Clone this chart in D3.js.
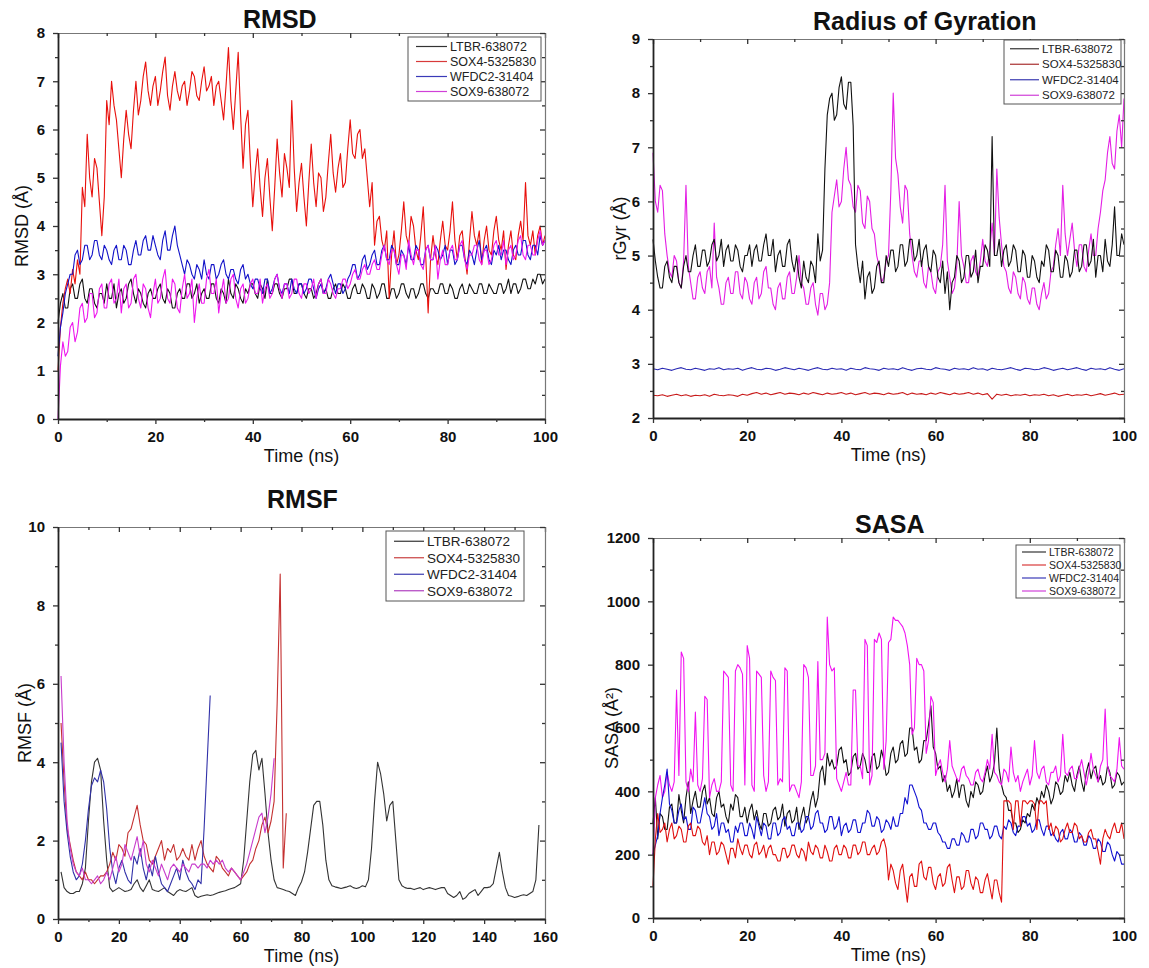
<!DOCTYPE html>
<html>
<head>
<meta charset="utf-8">
<script src="https://cdn.jsdelivr.net/npm/d3@7"></script>
<style>
body { margin: 0; background: #fff; }
svg text { font-family: "Liberation Sans", Arial, sans-serif; fill: #111; }
</style>
</head>
<body>
<svg id="chart" width="1149" height="968"></svg>
<script>
// ---- data ----
var legendNames = ['LTBR-638072', 'SOX4-5325830', 'WFDC2-31404', 'SOX9-638072'];
var timeNs = d3.range(0, 101);          // one sample per ns
var timeHalf = d3.range(0, 100.25, 0.5); // one sample per 0.5 ns

// RMSD, 0.5 ns samples (each row = 10 ns)
var rmsdLTBR = [
	2.0,2.4,2.6,2.3,2.3,2.7,2.8,2.5,2.5,2.8,2.9,2.5,2.4,2.7,2.7,2.4,2.3,2.6,2.6,2.4,
	2.8,2.5,2.5,2.8,2.3,2.6,2.7,2.4,2.5,2.8,2.9,2.6,2.4,2.7,2.6,2.4,2.3,2.6,2.7,2.5,
	2.5,2.7,2.8,2.5,2.4,2.7,2.6,2.3,2.3,2.6,2.7,2.5,2.5,2.8,2.8,2.5,2.6,2.8,2.4,2.6,
	2.7,2.5,2.5,2.8,2.8,2.5,2.4,2.7,2.6,2.4,2.9,2.6,2.5,2.8,2.7,2.5,2.4,2.7,2.6,2.8,
	2.8,2.6,2.5,2.8,2.7,2.5,2.9,2.6,2.6,2.8,2.8,2.6,2.5,2.7,2.7,2.9,2.9,2.6,2.6,2.8,
	2.8,2.6,2.5,2.7,2.7,2.5,2.6,2.8,2.9,2.6,2.7,2.5,2.5,2.7,2.8,2.6,2.6,2.8,2.7,2.5,
	2.5,2.7,2.8,2.6,2.6,2.8,2.7,2.5,2.5,2.8,2.7,2.5,2.6,2.8,2.8,2.5,2.5,2.7,2.7,2.5,
	2.6,2.8,2.8,2.6,2.5,2.7,2.7,2.5,2.6,2.8,2.8,2.6,2.5,2.7,2.7,2.6,2.6,2.8,2.8,2.6,
	2.6,2.8,2.7,2.5,2.5,2.7,2.8,2.6,2.6,2.8,2.7,2.6,2.6,2.8,2.8,2.6,2.6,2.8,2.7,2.6,
	2.6,2.8,2.8,2.6,2.7,2.9,2.6,2.8,2.8,2.6,2.7,2.9,2.9,2.7,2.7,2.9,2.8,3.0,3.0,2.8,
	2.9];
var rmsdSOX4 = [
	1.0,1.9,2.4,2.7,2.9,2.6,3.1,2.8,3.3,3.0,4.8,4.4,5.9,5.0,4.6,5.4,5.2,4.5,3.8,4.6,
	6.6,6.1,7.0,6.5,6.2,5.6,5.0,5.8,6.4,5.9,5.6,6.4,7.0,6.3,6.6,7.1,7.4,6.8,6.5,6.9,
	7.1,6.5,6.8,7.2,7.5,6.7,6.4,6.9,7.2,6.8,6.6,6.9,7.0,6.5,6.8,7.2,7.1,6.7,6.6,7.0,
	7.3,6.8,6.9,7.1,6.5,6.9,7.0,6.6,6.2,6.9,7.7,6.6,6.0,6.8,7.6,6.3,5.2,6.1,6.4,5.3,
	4.4,5.1,5.6,4.8,4.2,5.0,5.4,4.6,3.9,4.8,5.8,5.1,4.6,5.5,5.2,4.8,6.6,5.2,4.3,4.9,
	5.3,4.6,4.0,4.9,5.7,4.9,4.4,5.1,5.0,4.3,4.6,5.3,5.9,5.1,4.7,5.2,5.5,4.8,4.9,5.6,
	6.2,5.5,5.4,5.9,6.0,5.4,5.6,5.0,4.4,4.9,3.6,4.1,4.2,3.7,3.5,3.9,2.5,3.4,3.9,3.2,
	3.4,3.9,4.5,3.8,3.6,4.2,4.0,3.5,3.3,3.8,4.4,3.4,2.2,3.3,3.8,3.4,3.2,3.7,4.1,3.6,
	3.5,3.9,4.5,3.7,3.3,3.8,3.9,3.4,3.0,3.7,4.3,3.8,3.6,3.9,3.2,3.7,4.0,3.5,3.4,3.9,
	4.2,3.7,3.5,3.9,3.1,3.6,3.9,3.4,3.3,3.8,4.1,3.7,4.9,3.8,3.6,3.9,3.4,3.8,4.0,3.6,
	3.8];
var rmsdWFDC2 = [
	1.3,1.9,2.2,2.6,2.8,3.0,3.0,3.4,3.5,3.2,3.3,3.6,3.6,3.3,3.4,3.7,3.7,3.4,3.3,3.6,
	3.5,3.3,3.2,3.5,3.6,3.3,3.3,3.6,3.5,3.2,3.2,3.5,3.7,3.4,3.4,3.7,3.8,3.5,3.5,3.8,
	3.6,3.4,3.3,3.7,3.9,3.5,3.5,3.8,4.0,3.6,3.4,3.2,3.0,3.3,3.2,3.0,2.9,3.2,3.1,2.9,
	3.3,3.0,2.9,3.2,3.2,2.9,3.0,3.2,3.3,3.0,2.9,3.1,3.1,2.9,2.8,3.1,3.2,2.9,3.0,2.8,
	2.7,2.9,2.9,2.7,2.6,2.9,2.9,2.6,2.7,2.9,3.0,2.7,2.6,2.8,2.8,2.6,2.9,2.7,2.6,2.8,
	2.8,2.6,2.7,2.9,2.9,2.7,2.5,2.7,2.8,2.6,2.7,2.9,3.0,2.8,2.6,2.8,2.8,2.6,2.7,2.9,
	3.0,3.2,3.2,2.9,3.0,3.3,3.4,3.1,3.2,3.4,3.5,3.2,3.2,3.5,3.6,3.3,3.3,3.6,3.5,3.2,
	3.2,3.5,3.4,3.2,3.6,3.3,3.3,3.6,3.5,3.2,3.2,3.5,3.6,3.3,3.3,3.6,3.5,3.3,3.4,3.6,
	3.2,3.5,3.5,3.2,3.3,3.6,3.6,3.3,3.2,3.5,3.4,3.2,3.5,3.7,3.3,3.5,3.6,3.3,3.2,3.5,
	3.4,3.6,3.3,3.5,3.5,3.3,3.2,3.5,3.6,3.4,3.4,3.7,3.7,3.4,3.3,3.6,3.6,3.4,3.8,3.6,
	3.7];
var rmsdSOX9 = [
	0.0,1.1,1.6,1.3,1.4,1.9,2.0,1.6,1.8,2.3,2.4,2.0,2.1,2.6,2.6,2.1,2.2,2.7,2.8,2.3,
	2.3,2.8,2.9,2.4,2.5,2.9,2.2,2.7,2.8,2.3,2.4,2.9,3.0,2.5,2.3,2.8,2.7,2.3,2.1,2.6,
	2.9,2.4,2.5,2.9,3.1,2.5,2.4,2.9,2.8,2.3,2.2,2.7,3.0,2.5,2.6,2.9,2.0,2.5,2.8,2.4,
	2.4,2.9,3.1,2.6,2.6,2.9,2.2,2.6,2.9,2.4,2.5,2.9,3.0,2.5,2.3,2.7,2.8,2.4,2.5,2.8,
	2.9,2.6,2.6,2.9,2.4,2.7,2.8,2.5,2.6,2.9,3.0,2.7,2.5,2.8,2.8,2.5,2.6,2.9,2.9,2.6,
	2.5,2.8,2.8,2.6,2.7,2.9,2.5,2.8,2.9,2.6,2.6,2.9,2.8,2.6,2.5,2.7,2.7,2.9,2.9,2.7,
	2.8,3.0,3.1,2.9,2.9,3.1,3.2,3.0,3.0,3.2,3.3,3.1,3.1,3.4,3.6,3.3,3.2,3.5,3.5,3.2,
	3.0,3.4,3.4,3.1,3.7,3.4,3.2,3.5,3.5,3.2,3.1,3.5,3.6,3.3,3.3,3.6,2.9,3.3,3.5,3.2,
	3.2,3.5,3.6,3.3,3.3,3.6,3.7,3.3,3.1,3.4,3.4,3.6,3.6,3.3,3.2,3.5,3.5,3.2,3.3,3.6,
	3.7,3.4,3.4,3.7,3.2,3.5,3.6,3.3,3.4,3.7,3.8,3.4,3.3,3.6,3.6,3.4,3.4,3.7,3.9,3.6,
	3.7];

// radius of gyration: LTBR and SOX9 at 0.5 ns, SOX4 and WFDC2 at 1 ns
var rgyrLTBR = [
	5.3,4.9,4.6,4.4,4.4,4.8,4.9,4.6,4.5,4.8,4.8,4.5,4.4,4.8,5.0,4.7,4.7,5.0,5.2,4.8,
	4.8,5.1,5.1,4.8,4.9,5.2,5.3,4.9,5.0,5.3,4.8,5.1,5.2,4.9,4.9,5.2,5.1,4.8,4.7,5.0,
	5.0,5.2,4.8,5.1,5.2,4.9,4.9,5.2,5.4,5.0,5.0,5.3,4.7,5.0,5.1,4.8,4.8,5.2,5.3,4.9,
	4.7,5.0,4.6,4.4,4.9,4.6,4.5,4.9,4.8,4.5,5.4,4.9,5.1,6.6,7.6,7.9,8.0,7.5,7.6,8.1,
	8.3,7.8,7.7,8.2,8.2,7.4,5.2,4.8,4.5,4.9,4.2,4.6,4.7,4.3,4.4,4.8,4.9,4.5,4.5,5.0,
	4.8,5.1,5.1,4.7,4.8,5.2,5.2,4.8,4.9,5.3,5.3,4.9,5.0,5.3,4.8,5.1,5.2,4.8,4.7,5.1,
	5.0,4.6,4.5,4.9,4.3,4.7,4.0,4.5,4.6,5.0,4.9,4.5,4.6,5.0,5.0,4.6,4.7,5.1,4.5,4.8,
	4.8,5.2,5.1,4.8,7.2,5.0,5.0,5.3,4.8,5.1,5.2,4.8,4.9,5.2,5.1,4.7,4.7,5.1,5.0,4.6,
	4.6,5.0,4.9,4.6,4.5,4.9,4.8,5.2,5.1,4.7,4.7,5.1,5.0,4.6,4.6,5.0,4.9,4.6,4.7,5.1,
	5.1,4.7,4.8,5.2,5.2,4.8,4.9,5.3,4.6,5.0,5.0,4.7,5.3,4.9,4.8,5.2,5.9,5.0,5.0,5.4,
	5.2];
var rgyrSOX4 = [
	2.42,2.41,2.43,2.40,2.42,2.44,2.41,2.43,2.40,2.42,
	2.41,2.43,2.40,2.44,2.42,2.41,2.43,2.42,2.40,2.44,
	2.42,2.45,2.47,2.44,2.46,2.43,2.45,2.47,2.44,2.46,
	2.45,2.43,2.46,2.44,2.47,2.45,2.43,2.46,2.44,2.45,
	2.47,2.44,2.46,2.43,2.45,2.47,2.44,2.46,2.45,2.43,
	2.46,2.44,2.45,2.47,2.43,2.46,2.44,2.45,2.43,2.46,
	2.44,2.47,2.45,2.43,2.46,2.44,2.45,2.47,2.44,2.46,
	2.43,2.45,2.35,2.44,2.42,2.44,2.41,2.43,2.42,2.44,
	2.41,2.43,2.42,2.44,2.41,2.43,2.40,2.42,2.44,2.41,
	2.43,2.42,2.44,2.41,2.43,2.45,2.42,2.44,2.46,2.43,
	2.44];
var rgyrWFDC2 = [
	2.91,2.89,2.92,2.90,2.88,2.91,2.93,2.90,2.89,2.92,
	2.90,2.88,2.91,2.90,2.93,2.89,2.91,2.90,2.92,2.88,
	2.91,2.93,2.90,2.89,2.92,2.91,2.88,2.90,2.93,2.91,
	2.89,2.92,2.90,2.88,2.91,2.93,2.90,2.89,2.92,2.90,
	2.91,2.88,2.92,2.90,2.89,2.93,2.91,2.90,2.88,2.92,
	2.90,2.91,2.89,2.93,2.90,2.88,2.91,2.92,2.90,2.89,
	2.93,2.91,2.90,2.88,2.92,2.90,2.91,2.89,2.93,2.90,
	2.91,2.88,2.92,2.90,2.89,2.91,2.93,2.90,2.88,2.92,
	2.91,2.89,2.90,2.93,2.91,2.88,2.90,2.92,2.89,2.91,
	2.93,2.90,2.88,2.92,2.90,2.91,2.89,2.93,2.90,2.88,
	2.91];
var rgyrSOX9 = [
	6.9,6.0,5.8,6.3,6.2,5.4,5.0,4.7,4.6,5.0,4.9,4.5,4.4,4.9,6.3,4.8,4.5,4.2,4.2,4.6,
	4.7,4.4,4.3,4.7,4.8,4.4,5.6,4.6,4.4,4.1,4.1,4.5,4.6,4.3,4.3,4.7,4.7,4.3,4.2,4.6,
	4.5,4.2,4.1,4.5,4.6,4.2,4.3,4.7,4.8,4.4,4.4,4.1,4.0,4.4,4.5,4.2,4.2,4.6,4.7,4.3,
	4.3,4.6,5.0,4.5,4.4,4.1,4.1,4.4,4.5,4.1,3.9,4.3,4.3,4.0,4.1,4.5,5.8,6.1,6.4,5.9,
	6.0,6.6,7.0,6.4,6.3,5.9,5.8,6.3,6.2,5.6,5.5,6.1,6.0,5.5,5.4,5.0,4.8,4.5,4.6,4.9,
	5.0,6.2,8.0,6.8,6.5,5.9,5.6,6.3,6.2,5.4,5.0,4.7,4.6,4.9,4.9,4.5,4.4,4.8,4.7,4.4,
	4.3,4.7,4.8,5.2,6.3,4.9,4.6,4.3,4.4,4.8,6.0,5.0,4.8,4.5,4.5,4.9,5.0,4.7,4.6,4.9,
	5.3,4.9,4.8,5.1,5.6,5.0,6.6,5.7,5.2,4.8,4.7,4.4,4.3,4.7,4.6,4.3,4.2,4.6,4.5,4.2,
	4.1,4.4,4.4,4.1,4.0,4.3,4.5,4.2,4.3,4.7,4.8,5.2,5.5,5.0,6.3,5.4,5.0,5.3,5.6,5.1,
	4.8,5.2,5.2,4.8,4.7,5.1,5.4,5.0,5.0,5.5,5.8,6.2,6.4,6.9,7.2,6.7,6.6,7.3,7.6,7.0,
	7.9];

// RMSF: one value per residue, starting at residue 1
var rmsfLTBR = [
	1.2,0.8,0.7,0.65,0.65,0.7,0.7,0.9,1.3,2.5,
	3.5,4.0,4.1,3.8,2.5,1.5,0.8,0.7,0.75,0.8,
	0.75,0.7,0.72,0.75,0.9,1.0,0.8,0.7,0.85,1.0,
	0.75,0.72,0.7,0.75,0.8,0.7,0.65,0.6,0.7,0.75,
	0.72,0.7,0.75,0.8,0.6,0.55,0.58,0.6,0.62,0.6,
	0.62,0.65,0.68,0.7,0.72,0.75,0.78,0.8,0.85,0.9,
	1.5,2.5,3.5,4.2,4.3,3.8,4.1,3.2,2.2,1.5,
	1.0,0.8,0.78,0.75,0.72,0.7,0.65,0.6,0.8,0.95,
	1.2,1.7,2.3,2.9,3.0,3.0,2.4,1.5,1.0,0.85,
	0.82,0.8,0.78,0.8,0.82,0.85,0.8,0.78,0.8,0.85,
	0.82,1.0,1.8,3.0,4.0,3.7,3.2,2.5,2.9,3.0,
	2.0,1.0,0.85,0.8,0.78,0.78,0.75,0.78,0.8,0.75,
	0.78,0.8,0.78,0.75,0.78,0.8,0.8,0.65,0.6,0.55,
	0.6,0.7,0.5,0.55,0.65,0.7,0.75,0.6,0.7,0.8,
	0.8,0.82,0.9,1.3,1.7,1.2,0.8,0.6,0.58,0.55,
	0.57,0.6,0.62,0.6,0.65,0.7,1.0,2.4];
var rmsfSOX4 = [
	5.0,3.5,2.3,1.9,1.5,1.2,1.1,1.0,1.2,1.0,
	1.0,0.9,1.0,1.1,1.1,1.2,1.4,1.7,1.5,1.9,
	1.8,1.6,2.2,2.3,2.6,2.9,2.4,2.0,1.9,1.5,
	1.4,1.6,1.8,2.0,1.5,1.8,1.7,1.9,1.5,1.6,
	1.8,1.6,1.5,1.9,1.5,1.8,2.0,1.6,1.4,1.3,
	1.2,1.6,1.5,1.3,1.2,1.1,1.3,1.2,1.1,1.0,
	1.1,1.2,1.4,1.5,1.8,2.0,2.4,2.6,2.2,2.5,
	3.0,5.5,8.8,1.3,2.7];
var rmsfWFDC2 = [
	4.5,3.0,2.2,1.6,1.2,1.0,1.1,1.4,2.0,2.8,
	3.4,3.6,3.5,3.8,3.5,2.8,1.8,1.2,0.9,1.3,
	1.5,1.2,1.0,0.9,1.6,1.4,1.8,1.3,1.0,1.4,
	1.1,1.6,1.2,0.9,0.8,0.7,0.9,1.1,1.3,1.0,
	1.5,1.2,1.0,0.9,0.75,1.0,0.9,2.3,4.0,5.7];
var rmsfSOX9 = [
	6.2,4.0,2.5,1.8,1.4,1.2,1.1,1.3,1.0,1.0,
	0.9,1.0,1.1,0.9,1.0,1.2,1.0,1.3,1.6,1.2,
	1.4,1.9,1.7,1.5,1.8,2.1,1.6,2.0,1.4,1.2,
	1.5,1.3,1.1,1.4,1.2,1.0,1.3,1.4,1.3,1.2,
	1.4,1.3,1.2,1.4,1.4,1.3,1.4,1.4,1.3,1.5,
	1.4,1.5,1.4,1.5,1.3,1.2,1.3,1.2,1.1,1.0,
	1.2,1.4,1.7,2.0,2.3,2.6,2.7,2.2,2.6,3.2,
	4.1];

// SASA, 0.5 ns samples (each row = 10 ns)
var sasaLTBR = [
	300,380,250,330,320,280,280,350,360,300,300,390,340,300,380,430,330,370,400,350,
	350,400,420,360,380,330,320,380,400,350,360,320,300,360,340,390,380,320,320,350,
	300,340,360,310,340,300,280,330,330,290,300,340,350,310,320,360,290,330,340,300,
	310,350,280,320,350,300,320,370,400,350,380,460,480,420,520,480,500,470,480,530,
	540,490,500,450,460,510,520,470,480,520,500,460,460,510,520,470,480,530,500,450,
	460,520,540,490,500,550,560,510,520,600,600,530,540,490,500,560,560,610,670,540,
	520,470,480,430,450,400,420,380,400,440,380,420,420,370,350,400,380,430,420,390,
	400,450,480,430,450,490,600,470,420,390,380,340,340,300,300,270,280,310,300,330,
	320,360,340,380,360,400,380,420,400,360,380,430,420,390,400,450,430,460,420,400,
	450,480,430,400,460,490,440,470,480,430,450,420,430,480,460,410,420,460,450,420,
	430];
var sasaSOX4 = [
	100,250,330,270,280,300,240,280,300,250,260,290,280,240,240,290,300,260,260,290,
	280,240,230,260,200,240,240,200,210,240,230,200,170,220,220,190,250,220,200,230,
	230,200,190,230,240,200,210,230,190,220,230,200,200,180,180,220,220,190,200,230,
	230,200,190,220,210,180,240,210,200,230,220,190,190,230,210,180,180,220,230,200,
	200,230,220,190,190,230,230,200,210,240,240,200,200,220,230,200,210,240,250,220,
	120,170,150,110,90,150,170,110,50,130,140,100,100,170,180,130,120,160,160,110,
	90,130,140,100,110,160,170,120,80,130,130,90,100,150,150,110,90,130,120,80,
	80,120,140,100,60,120,120,80,50,370,370,370,360,280,370,370,290,370,370,360,
	370,370,360,280,370,370,360,370,280,300,260,290,280,240,250,280,300,270,270,300,
	290,250,260,240,240,270,280,250,250,210,170,250,280,260,250,280,300,270,270,300,
	250];
var sasaWFDC2 = [
	200,230,260,330,380,420,470,360,340,300,300,340,360,310,320,280,280,350,340,300,
	300,340,380,330,320,280,290,330,260,300,300,270,280,240,240,290,270,300,300,260,
	260,300,280,250,320,290,260,300,290,250,250,300,300,260,270,310,320,280,290,260,
	260,300,300,270,280,320,320,280,290,330,340,300,300,270,280,320,320,280,290,320,
	260,290,300,270,280,310,310,270,270,300,300,340,330,290,290,320,310,270,280,310,
	300,280,320,290,290,330,330,380,360,420,420,400,380,350,340,300,300,280,280,300,
	300,270,260,240,240,220,220,250,250,230,230,270,260,240,240,280,280,250,260,300,
	300,280,280,250,260,290,290,260,250,290,280,310,300,270,260,290,290,320,320,290,
	300,270,280,310,310,280,260,290,290,260,270,250,240,270,280,250,250,280,270,240,
	240,270,260,230,230,260,250,220,220,250,240,210,210,240,230,200,180,210,200,170,
	170];
var sasaSOX9 = [
	200,380,420,450,380,400,460,420,400,430,720,450,840,820,430,400,470,430,650,420,
	400,440,700,690,380,420,440,400,400,430,780,770,760,420,400,780,800,790,770,420,
	860,820,420,400,780,770,760,450,400,430,780,760,750,420,440,430,790,780,400,420,
	420,400,380,430,800,790,760,450,450,480,810,500,500,520,950,800,780,790,440,420,
	400,430,460,420,420,720,720,480,480,440,880,860,420,450,880,870,900,880,470,560,
	870,880,950,940,940,930,920,900,860,800,580,600,820,800,800,780,520,560,700,680,
	450,480,500,460,430,470,560,480,460,440,430,470,480,450,440,420,420,460,470,440,
	430,460,500,470,580,460,450,430,420,470,460,430,540,460,430,450,400,430,450,470,
	420,450,560,460,440,470,480,430,420,460,460,480,430,450,580,460,450,470,480,440,
	440,470,500,460,420,460,520,470,450,430,480,500,660,480,450,440,430,470,570,480,
	470];

var svg = d3.select('#chart');

function drawPanel(p) {
	var x = d3.scaleLinear().domain(p.xDomain).range([p.left, p.right]);
	var y = d3.scaleLinear().domain(p.yDomain).range([p.bottom, p.top]);
	var g = svg.append('g');

	// data lines
	p.series.forEach(function(s) {
		var line = d3.line()
			.x(function(d, i) { return x(s.xs[i]); })
			.y(function(d) { return y(d); });
		g.append('path')
			.datum(s.values)
			.attr('d', line)
			.style('fill', 'none')
			.style('stroke', s.color)
			.style('stroke-width', 1.1)
			.style('stroke-linejoin', 'round');
	});

	function addAxis(gen, tx, ty, vals, size, fmt, pad) {
		var a = g.append('g')
			.attr('transform', 'translate(' + tx + ',' + ty + ')')
			.call(gen.tickValues(vals).tickSize(size).tickSizeOuter(0)
				.tickPadding(pad || 3).tickFormat(fmt || function() { return ''; }));
		a.selectAll('.tick line').style('stroke', '#333').style('stroke-width', 1.3);
		return a;
	}

	// frame: top and right, ticks pointing in
	var top = addAxis(d3.axisBottom(x), 0, p.top, p.xMajor, 5);
	addAxis(d3.axisBottom(x), 0, p.top, p.xMinor, 3).select('.domain').remove();
	var right = addAxis(d3.axisLeft(y), p.right, 0, p.yMajor, 5);
	addAxis(d3.axisLeft(y), p.right, 0, p.yMinor, 3).select('.domain').remove();
	top.select('.domain').style('stroke', '#777').style('stroke-width', 1.2);
	right.select('.domain').style('stroke', '#777').style('stroke-width', 1.2);

	// bottom and left, ticks pointing out
	var bottom = addAxis(d3.axisBottom(x), 0, p.bottom, p.xMajor, 5, d3.format('d'), 7);
	addAxis(d3.axisBottom(x), 0, p.bottom, p.xMinor, 3).select('.domain').remove();
	var left = addAxis(d3.axisLeft(y), p.left, 0, p.yMajor, 5, d3.format('d'), 8);
	addAxis(d3.axisLeft(y), p.left, 0, p.yMinor, 3).select('.domain').remove();
	[bottom, left].forEach(function(a) {
		a.select('.domain').style('stroke', '#222').style('stroke-width', 1.8);
		a.selectAll('.tick text')
			.style('font-size', '15px')
			.style('font-weight', 'bold')
			.style('fill', '#111');
	});

	// titles
	g.append('text')
		.attr('x', p.titleX).attr('y', p.titleY)
		.style('font-size', '25px').style('font-weight', 'bold')
		.text(p.title);
	g.append('text')
		.attr('x', (p.left + p.right) / 2).attr('y', p.bottom + 43)
		.attr('text-anchor', 'middle')
		.style('font-size', '18px')
		.text('Time (ns)');
	g.append('text')
		.attr('transform', 'translate(' + p.yLabelX + ',' + ((p.top + p.bottom) / 2) + ') rotate(-90)')
		.attr('text-anchor', 'middle')
		.attr('dy', '0.35em')
		.style('font-size', '18px')
		.text(p.yLabel);

	// legend
	var lg = p.legend;
	var box = g.append('g').attr('transform', 'translate(' + lg.x + ',' + lg.y + ')');
	box.append('rect')
		.attr('width', lg.w).attr('height', lg.h)
		.style('fill', '#fff').style('stroke', '#555').style('stroke-width', 1);
	legendNames.forEach(function(name, i) {
		var ry = lg.pad + lg.row * (i + 0.5);
		box.append('line')
			.attr('x1', lg.lx).attr('x2', lg.lx + lg.len)
			.attr('y1', ry).attr('y2', ry)
			.style('stroke', p.legendColors[i]).style('stroke-width', 1.2);
		box.append('text')
			.attr('x', lg.lx + lg.len + 3).attr('y', ry)
			.attr('dy', '0.36em')
			.style('font-size', lg.fs + 'px')
			.style('fill', '#222')
			.text(name);
	});
}

var t160Major = d3.range(0, 161, 20), t160Minor = d3.range(10, 160, 20);
var t100Major = d3.range(0, 101, 20), t100Minor = d3.range(10, 100, 20);

drawPanel({
	title: 'RMSD', titleX: 243, titleY: 28,
	left: 58, right: 545, top: 33, bottom: 419,
	xDomain: [0, 100], yDomain: [0, 8],
	xMajor: t100Major, xMinor: t100Minor,
	yMajor: d3.range(0, 9, 1), yMinor: d3.range(0.5, 8, 1),
	yLabel: 'RMSD (Å)', yLabelX: 22,
	series: [
		{ xs: timeHalf, values: rmsdLTBR, color: '#111' },
		{ xs: timeHalf, values: rmsdSOX4, color: '#e8100c' },
		{ xs: timeHalf, values: rmsdWFDC2, color: '#1212c8' },
		{ xs: timeHalf, values: rmsdSOX9, color: '#ee16ee' }
	],
	legendColors: ['#333', '#d83a3a', '#3a3ab8', '#d040d8'],
	legend: { x: 408, y: 37, w: 133, h: 64, pad: 2, row: 15, lx: 8, len: 31, fs: 12.5 }
});

drawPanel({
	title: 'Radius of Gyration', titleX: 813, titleY: 30,
	left: 653, right: 1124, top: 39, bottom: 418,
	xDomain: [0, 100], yDomain: [2, 9],
	xMajor: t100Major, xMinor: t100Minor,
	yMajor: d3.range(2, 10, 1), yMinor: d3.range(2.5, 9, 1),
	yLabel: 'rGyr (Å)', yLabelX: 620,
	series: [
		{ xs: timeNs, values: rgyrSOX4, color: '#c81a1a' },
		{ xs: timeNs, values: rgyrWFDC2, color: '#2a2ab4' },
		{ xs: timeHalf, values: rgyrSOX9, color: '#e41ee4' },
		{ xs: timeHalf, values: rgyrLTBR, color: '#111' }
	],
	legendColors: ['#333', '#a83030', '#3a3ab0', '#d040d8'],
	legend: { x: 1004, y: 40, w: 117, h: 64, pad: 1, row: 15.5, lx: 6, len: 29, fs: 11.5 }
});

drawPanel({
	title: 'RMSF', titleX: 267, titleY: 508,
	left: 58, right: 545, top: 527, bottom: 919,
	xDomain: [0, 160], yDomain: [0, 10],
	xMajor: t160Major, xMinor: t160Minor,
	yMajor: d3.range(0, 11, 2), yMinor: d3.range(1, 10, 2),
	yLabel: 'RMSF (Å)', yLabelX: 25,
	series: [
		{ xs: d3.range(1, rmsfLTBR.length + 1), values: rmsfLTBR, color: '#333' },
		{ xs: d3.range(1, rmsfSOX4.length + 1), values: rmsfSOX4, color: '#c43030' },
		{ xs: d3.range(1, rmsfWFDC2.length + 1), values: rmsfWFDC2, color: '#3030a8' },
		{ xs: d3.range(1, rmsfSOX9.length + 1), values: rmsfSOX9, color: '#c83ccc' }
	],
	legendColors: ['#333', '#c84040', '#3a3ab0', '#b040c0'],
	legend: { x: 386, y: 531, w: 138, h: 70, pad: 2, row: 16.5, lx: 8, len: 30, fs: 13.5 }
});

drawPanel({
	title: 'SASA', titleX: 855, titleY: 533,
	left: 653, right: 1124, top: 538, bottom: 918,
	xDomain: [0, 100], yDomain: [0, 1200],
	xMajor: t100Major, xMinor: t100Minor,
	yMajor: d3.range(0, 1201, 200), yMinor: d3.range(100, 1200, 200),
	yLabel: 'SASA (Å²)', yLabelX: 612,
	series: [
		{ xs: timeHalf, values: sasaLTBR, color: '#111' },
		{ xs: timeHalf, values: sasaSOX9, color: '#f014f0' },
		{ xs: timeHalf, values: sasaWFDC2, color: '#1010d0' },
		{ xs: timeHalf, values: sasaSOX4, color: '#e01010' }
	],
	legendColors: ['#333', '#d83a3a', '#3a3ab8', '#d040d8'],
	legend: { x: 1016, y: 545, w: 104, h: 53, pad: 0.5, row: 13, lx: 6, len: 24, fs: 10.5 }
});
</script>
</body>
</html>
